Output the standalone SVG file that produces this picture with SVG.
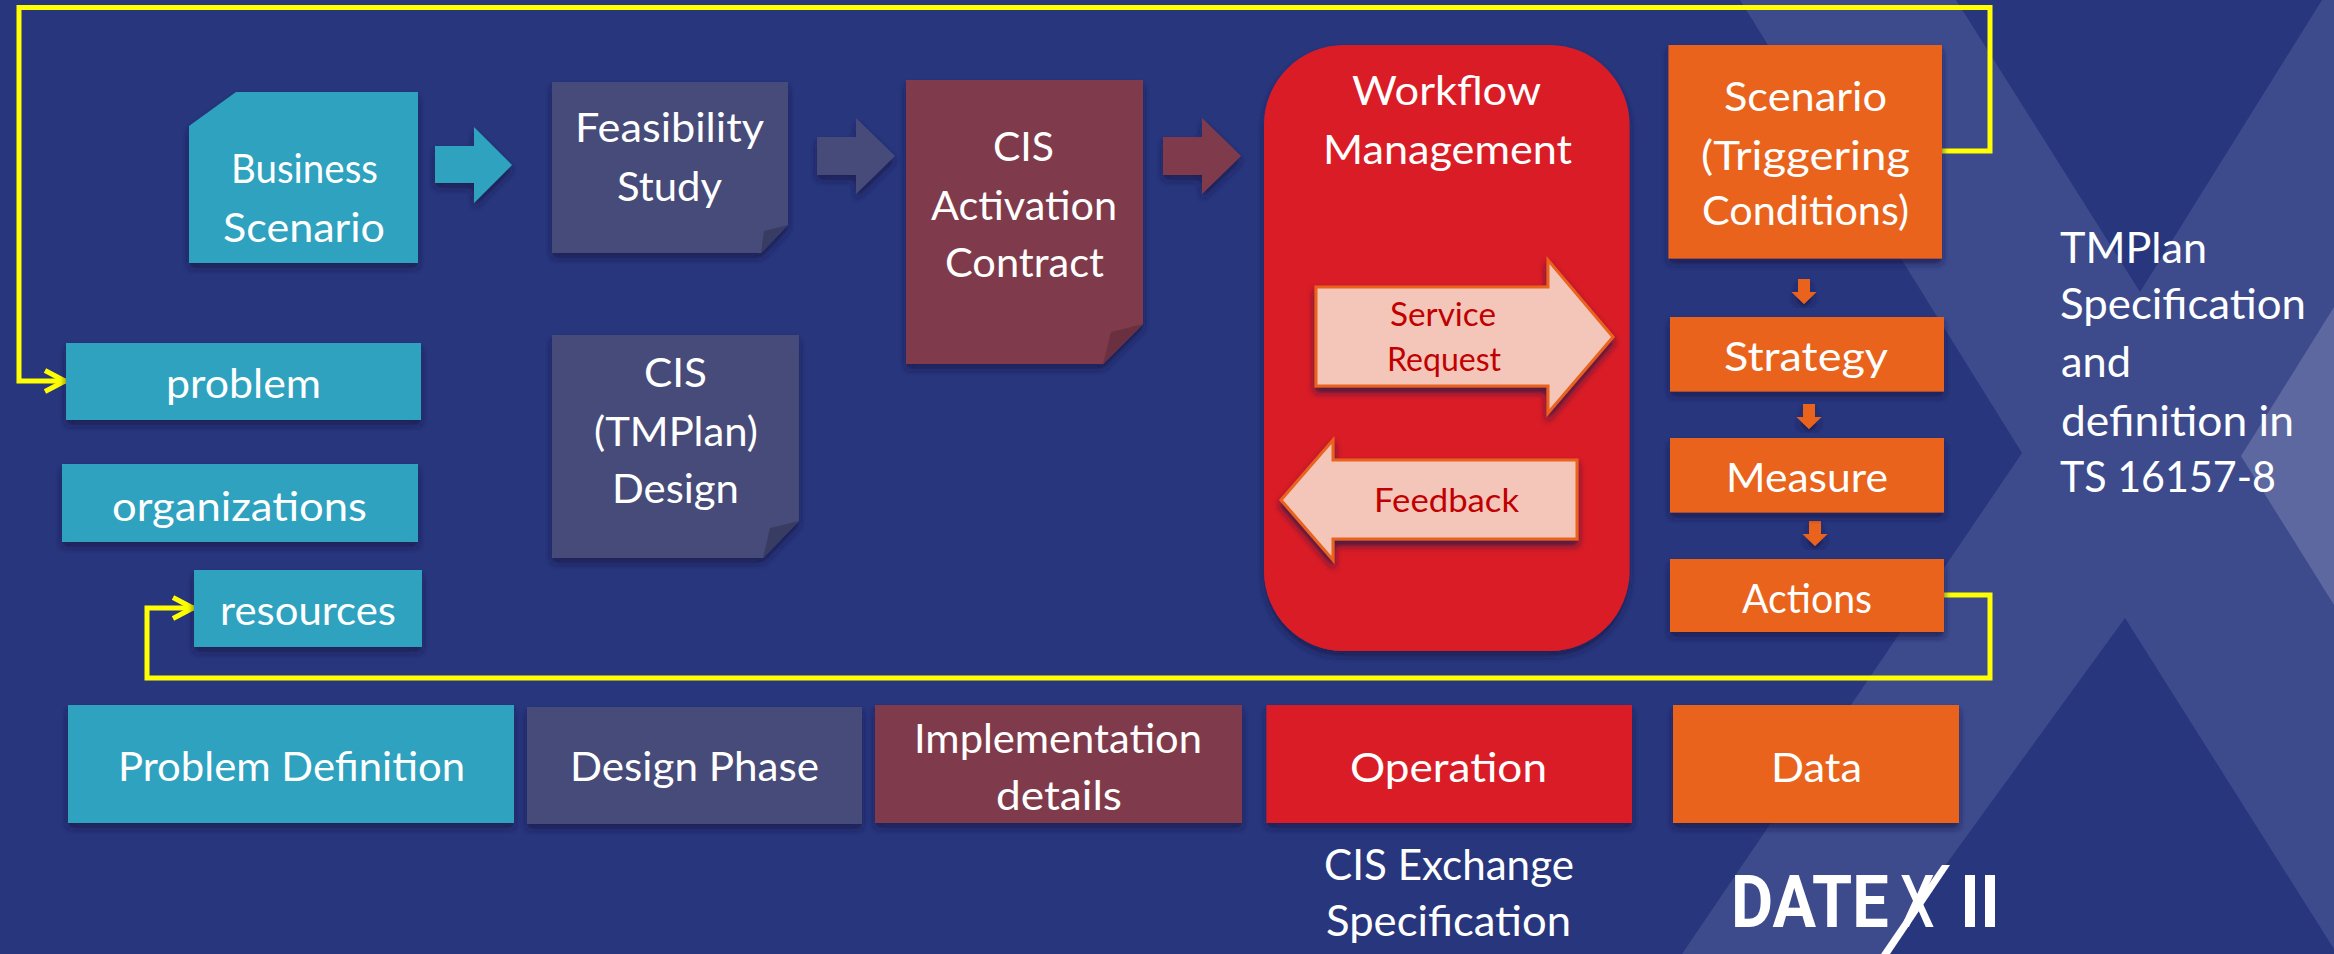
<svg xmlns="http://www.w3.org/2000/svg" width="2334" height="954" viewBox="0 0 2334 954">
<style>
text{font-family:"Lato","Noto Sans",sans-serif;fill:#fff;font-size:40px}
.s{filter:url(#sh)}
.teal{fill:#2da2bf}.slate{fill:#464b79}.maroon{fill:#7f3b4b}.red{fill:#da1f28}.orange{fill:#e9641c}
.pale{fill:#f4c5b9;stroke:#e9641c;stroke-width:3}
.dark{fill:#c00000;font-size:32px}
.cal{font-size:43px}
.logo{font-family:"Roboto","Liberation Sans",sans-serif;font-weight:700;font-size:72px}
.y{fill:none;stroke:#ff0;stroke-width:5;stroke-linejoin:miter}
</style>
<defs>
<filter id="sh" x="-10%" y="-10%" width="120%" height="125%"><feDropShadow dx="0" dy="5" stdDeviation="3.5" flood-color="#141c4c" flood-opacity="0.8"/></filter>
<marker id="open" markerUnits="userSpaceOnUse" markerWidth="26" markerHeight="28" viewBox="-24 -14 26 28" refX="0" refY="0" orient="auto"><path d="M-21,-10.5L-1,0L-21,10.5" fill="none" stroke="#ff0" stroke-width="5"/></marker>
</defs>
<rect width="2334" height="954" fill="#28367d"/>
<g id="watermark">
<path d="M1740,0H1956L2140,292L2322,0H2334V949L2125,618L1881,954H1682L2022,453Z" fill="#3d4b8d"/>
<path d="M2334,307L2241,456L2334,605Z" fill="#5c689f"/>
</g>
<g id="connectors">
<path class="teal s" d="M435,146H474V127L512,165L474,203V183H435Z"/>
<path class="slate s" d="M817,137H856V118L895,156L856,194V175H817Z"/>
<path class="maroon s" d="M1163,137H1202V118L1241,156L1202,194V175H1163Z"/>
<path class="orange s" d="M1798,279H1810V292H1816.500L1804,304L1791.500,292H1798Z"/>
<path class="orange s" d="M1803,404H1815V417H1821.500L1809,429L1796.500,417H1803Z"/>
<path class="orange s" d="M1809,521H1821V534H1827.500L1815,546L1802.500,534H1809Z"/>
<path class="y" d="M1942,151H1990V7.500H19V381H66" marker-end="url(#open)"/>
<path class="y" d="M1944,595H1990V678H147V608H194" marker-end="url(#open)"/>
</g>
<g id="business-scenario"><path class="teal s" d="M236,92H418V263H189V126Z"/><text x="231" y="183" textLength="147" lengthAdjust="spacingAndGlyphs">Business</text><text x="223" y="242" textLength="162" lengthAdjust="spacingAndGlyphs">Scenario</text></g>
<g id="feasibility-study"><path class="slate s" d="M552,82H788V225L761,253H552Z"/><path d="M788,225L764,231L761,253Z" fill="#383c63"/><text x="575" y="142" textLength="189" lengthAdjust="spacingAndGlyphs">Feasibility</text><text x="617" y="201" textLength="105" lengthAdjust="spacingAndGlyphs">Study</text></g>
<g id="cis-activation-contract"><path class="maroon s" d="M906,80H1143V324L1103,364H906Z"/><path d="M1143,324L1111,332L1103,364Z" fill="#6a3040"/><text x="993" y="161" textLength="61" lengthAdjust="spacingAndGlyphs">CIS</text><text x="931" y="220" textLength="186" lengthAdjust="spacingAndGlyphs">Activation</text><text x="945" y="277" textLength="159" lengthAdjust="spacingAndGlyphs">Contract</text></g>
<g id="workflow-management"><rect class="red s" x="1264" y="45" width="365.500" height="606" rx="80" ry="80"/><text x="1352" y="105" textLength="189" lengthAdjust="spacingAndGlyphs">Workflow</text><text x="1323" y="164" textLength="249" lengthAdjust="spacingAndGlyphs">Management</text></g>
<g id="service-request"><path class="pale s" d="M1316,287H1548V260L1613,337L1548,413V386H1316Z"/><text class="dark" x="1390" y="326" textLength="106" lengthAdjust="spacingAndGlyphs">Service</text><text class="dark" x="1387" y="371" textLength="114" lengthAdjust="spacingAndGlyphs">Request</text></g>
<g id="feedback"><path class="pale s" d="M1577,460H1333V440L1281,500L1333,560V539H1577Z"/><text class="dark" x="1374" y="512" textLength="145" lengthAdjust="spacingAndGlyphs">Feedback</text></g>
<g id="scenario"><rect class="orange s" x="1668.500" y="45" width="273.500" height="213.500"/><text x="1724" y="111" textLength="163" lengthAdjust="spacingAndGlyphs">Scenario</text><text x="1701" y="170" textLength="209" lengthAdjust="spacingAndGlyphs">(Triggering</text><text x="1702" y="225" textLength="207" lengthAdjust="spacingAndGlyphs">Conditions)</text></g>
<g id="strategy"><rect class="orange s" x="1670" y="317" width="274" height="74.500"/><text x="1724" y="371" textLength="164" lengthAdjust="spacingAndGlyphs">Strategy</text></g>
<g id="measure"><rect class="orange s" x="1670" y="438" width="274" height="74.500"/><text x="1726" y="492" textLength="162" lengthAdjust="spacingAndGlyphs">Measure</text></g>
<g id="actions"><rect class="orange s" x="1670" y="559" width="274" height="73"/><text x="1742" y="613" textLength="130" lengthAdjust="spacingAndGlyphs">Actions</text></g>
<g id="problem"><rect class="teal s" x="66" y="343" width="355" height="77"/><text x="166" y="398" textLength="155" lengthAdjust="spacingAndGlyphs">problem</text></g>
<g id="organizations"><rect class="teal s" x="62" y="464" width="356" height="78"/><text x="112" y="521" textLength="255" lengthAdjust="spacingAndGlyphs">organizations</text></g>
<g id="resources"><rect class="teal s" x="194" y="570" width="228" height="77"/><text x="220" y="625" textLength="176" lengthAdjust="spacingAndGlyphs">resources</text></g>
<g id="cis-tmplan-design"><path class="slate s" d="M552,335H799V521L763,558H552Z"/><path d="M799,521L770,528L763,558Z" fill="#383c63"/><text x="644" y="387" textLength="63" lengthAdjust="spacingAndGlyphs">CIS</text><text x="594" y="446" textLength="164" lengthAdjust="spacingAndGlyphs">(TMPlan)</text><text x="612" y="503" textLength="127" lengthAdjust="spacingAndGlyphs">Design</text></g>
<g id="problem-definition"><rect class="teal s" x="68" y="705" width="446" height="118"/><text x="118" y="781" textLength="347" lengthAdjust="spacingAndGlyphs">Problem Definition</text></g>
<g id="design-phase"><rect class="slate s" x="527" y="707" width="335" height="117"/><text x="570" y="781" textLength="249" lengthAdjust="spacingAndGlyphs">Design Phase</text></g>
<g id="implementation-details"><rect class="maroon s" x="875" y="705" width="367" height="118"/><text x="914" y="753" textLength="288" lengthAdjust="spacingAndGlyphs">Implementation</text><text x="996" y="810" textLength="126" lengthAdjust="spacingAndGlyphs">details</text></g>
<g id="operation"><rect class="red s" x="1266.500" y="705" width="365.500" height="118"/><text x="1350" y="782" textLength="197" lengthAdjust="spacingAndGlyphs">Operation</text></g>
<g id="data"><rect class="orange s" x="1673" y="705" width="286" height="118"/><text x="1771" y="782" textLength="91" lengthAdjust="spacingAndGlyphs">Data</text></g>
<g id="cis-exchange-spec"><text class="cal" x="1324" y="880" textLength="250" lengthAdjust="spacingAndGlyphs">CIS Exchange</text><text class="cal" x="1326" y="936" textLength="245" lengthAdjust="spacingAndGlyphs">Specification</text></g>
<g id="tmplan-note"><text class="cal" x="2060" y="263" textLength="147" lengthAdjust="spacingAndGlyphs">TMPlan</text><text class="cal" x="2060" y="319" textLength="246" lengthAdjust="spacingAndGlyphs">Specification</text><text class="cal" x="2061" y="377" textLength="70" lengthAdjust="spacingAndGlyphs">and</text><text class="cal" x="2061" y="436" textLength="233" lengthAdjust="spacingAndGlyphs">definition in</text><text class="cal" x="2060" y="492" textLength="216" lengthAdjust="spacingAndGlyphs">TS 16157-8</text></g>
<g id="datex-logo"><text class="logo" transform="translate(1731,927) scale(0.9,1)">DATE</text><text class="logo" transform="translate(1900,927) scale(0.76,1)" style="font-weight:500">X</text><path d="M1942,865H1950L1890,954H1881Z" fill="#fff"/><text class="logo" transform="translate(1960,927) scale(0.95,1)">II</text></g>
</svg>
